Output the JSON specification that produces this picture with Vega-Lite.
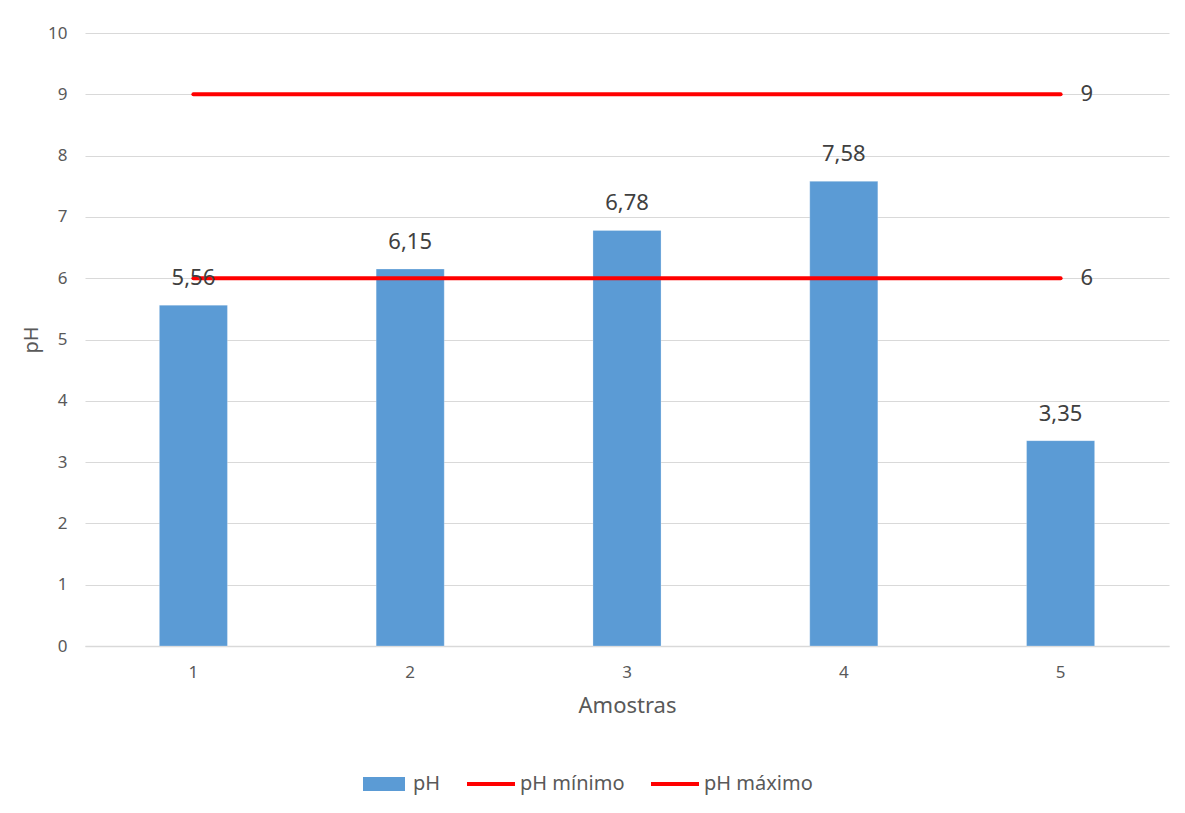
{
  "$schema": "https://vega.github.io/schema/vega-lite/v6.json",
  "width": 1084,
  "height": 613,
  "autosize": {"type": "none"},
  "padding": {"left": 85, "top": 33, "right": 16, "bottom": 167},
  "background": "#ffffff",
  "config": {
    "locale": {"number": {"decimal": ",", "thousands": ".", "grouping": [3], "currency": ["", ""]}},
    "font": "Noto Sans",
    "view": {"stroke": null},
    "axis": {
      "labelFont": "Noto Sans",
      "titleFont": "Noto Sans",
      "labelColor": "#595959",
      "titleColor": "#595959",
      "titleFontWeight": "normal",
      "ticks": false
    }
  },
  "datasets": {
    "amostras": [
      {"amostra": "1", "serie": "pH", "valor": 5.56},
      {"amostra": "2", "serie": "pH", "valor": 6.15},
      {"amostra": "3", "serie": "pH", "valor": 6.78},
      {"amostra": "4", "serie": "pH", "valor": 7.58},
      {"amostra": "5", "serie": "pH", "valor": 3.35}
    ],
    "limites": [
      {"amostra": "1", "serie": "pH mínimo", "valor": 6},
      {"amostra": "2", "serie": "pH mínimo", "valor": 6},
      {"amostra": "3", "serie": "pH mínimo", "valor": 6},
      {"amostra": "4", "serie": "pH mínimo", "valor": 6},
      {"amostra": "5", "serie": "pH mínimo", "valor": 6},
      {"amostra": "1", "serie": "pH máximo", "valor": 9},
      {"amostra": "2", "serie": "pH máximo", "valor": 9},
      {"amostra": "3", "serie": "pH máximo", "valor": 9},
      {"amostra": "4", "serie": "pH máximo", "valor": 9},
      {"amostra": "5", "serie": "pH máximo", "valor": 9}
    ]
  },
  "encoding": {
    "x": {
      "field": "amostra",
      "type": "ordinal",
      "title": "Amostras",
      "scale": {"paddingInner": 0.686, "paddingOuter": 0.343},
      "axis": {
        "labelAngle": 0,
        "labelFontSize": 17,
        "labelPadding": 18,
        "titleFontSize": 22,
        "titlePadding": 15,
        "domainColor": "#D9D9D9",
        "domainWidth": 1.5,
        "grid": false
      }
    },
    "y": {
      "field": "valor",
      "type": "quantitative",
      "title": "pH",
      "scale": {"domain": [0, 10], "nice": false},
      "axis": {
        "values": [0, 1, 2, 3, 4, 5, 6, 7, 8, 9, 10],
        "labelFontSize": 17,
        "labelPadding": 18,
        "titleFontSize": 20,
        "titlePadding": 6,
        "domain": false,
        "grid": true,
        "gridColor": "#D9D9D9",
        "gridWidth": 1.2
      }
    },
    "color": {
      "field": "serie",
      "type": "nominal",
      "scale": {
        "domain": ["pH", "pH mínimo", "pH máximo"],
        "range": ["#5B9BD5", "#FF0000", "#FF0000"]
      },
      "legend": {
        "title": null,
        "orient": "none",
        "direction": "horizontal",
        "legendX": 289,
        "legendY": 741,
        "symbolSize": 2304,
        "labelFontSize": 20,
        "labelColor": "#595959",
        "labelOffset": 19,
        "columnPadding": 18,
        "encode": {
          "symbols": {
            "update": {
              "shape": {"signal": "datum.value === 'pH' ? 'M-0.875,-0.29H0.875V0.29H-0.875Z' : 'M-1,0H1'"},
              "fill": {"signal": "datum.value === 'pH' ? '#5B9BD5' : 'transparent'"},
              "stroke": {"signal": "datum.value === 'pH' ? 'transparent' : '#FF0000'"},
              "strokeWidth": {"signal": "datum.value === 'pH' ? 0 : 4"},
              "opacity": {"value": 1},
              "fillOpacity": {"value": 1},
              "strokeOpacity": {"value": 1}
            }
          }
        }
      }
    }
  },
  "layer": [
    {
      "data": {"name": "amostras"},
      "mark": {"type": "bar", "stroke": "#ffffff", "strokeWidth": 0.5, "strokeOpacity": 0.5}
    },
    {
      "data": {"name": "limites"},
      "mark": {"type": "line", "strokeWidth": 4, "strokeCap": "round"},
      "encoding": {"detail": {"field": "serie"}}
    },
    {
      "data": {"name": "amostras"},
      "mark": {"type": "text", "baseline": "middle", "dy": -27, "fontSize": 22, "color": "#404040"},
      "encoding": {
        "text": {"field": "valor", "type": "quantitative", "format": ".2f"},
        "color": {"value": "#404040"}
      }
    },
    {
      "data": {"name": "limites"},
      "transform": [{"filter": "datum.amostra === '5'"}],
      "mark": {"type": "text", "align": "left", "baseline": "middle", "dx": 20, "fontSize": 22, "color": "#404040"},
      "encoding": {
        "text": {"field": "valor", "type": "quantitative", "format": "d"},
        "color": {"value": "#404040"}
      }
    }
  ]
}
